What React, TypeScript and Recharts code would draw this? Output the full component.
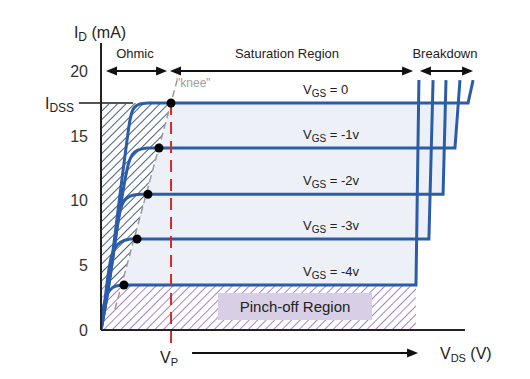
import React from 'react';
import { ComposedChart, Line, Area, Scatter, XAxis, YAxis, ReferenceLine, ReferenceArea, ReferenceDot } from 'recharts';

// VGS curves, top to bottom
const vgsLabels = ['0', '-1v', '-2v', '-3v', '-4v'];
const satCurrent = [17.56, 14.08, 10.5, 7.04, 3.48];
const kneeVoltage = [4.06, 3.36, 2.72, 2.09, 1.33];
const breakdownVoltage = [21.28, 20.52, 19.83, 19.01, 18.26];
const breakdownTopVoltage = [21.57, 20.81, 20.0, 19.25, 18.43];
const breakdownTopCurrent = 19.33;

// ohmic part of each curve (VDS, ID)
const ohmicVoltage = [
    [0, 0.35, 0.7, 0.99, 1.28, 1.51, 1.68, 1.91, 2.26, 2.72],
    [0, 0.41, 0.75, 1.1, 1.39, 1.57, 1.8, 2.14, 2.67],
    [0, 0.41, 0.75, 0.99, 1.22, 1.51, 1.91, 2.38],
    [0, 0.23, 0.41, 0.58, 0.81, 1.16, 1.68],
    [0, 0.12, 0.29, 0.52, 0.87, 1.33],
];
const ohmicCurrent = [
    [0, 3.09, 6.19, 9.28, 12.37, 14.69, 16.24, 17.17, 17.48, 17.56],
    [0, 3.09, 6.19, 9.28, 11.6, 12.76, 13.53, 13.92, 14.08],
    [0, 3.09, 6.19, 8.51, 9.67, 10.21, 10.44, 10.5],
    [0, 2.32, 4.25, 5.57, 6.34, 6.81, 7.04],
    [0, 1.55, 2.55, 3.09, 3.4, 3.48],
];

const kneeLineVoltage = [0.81, 4.41];
const kneeLineCurrent = [1.6, 19.3];
const yTicks = [0, 5, 10, 15, 20];
const idss = 17.56;
const vp = 4.06;

const BLUE = '#2b5ca8';
const FONT = 'Liberation Sans, Arial, sans-serif';

const ohmicCurves = vgsLabels.map((_, i) => ohmicVoltage[i].map((v, j) => ({ x: v, y: ohmicCurrent[i][j] })));
const satCurves = vgsLabels.map((_, i) => {
    const n = ohmicVoltage[i].length - 1;
    return [
        { x: ohmicVoltage[i][n], y: ohmicCurrent[i][n] },
        { x: breakdownVoltage[i], y: satCurrent[i] },
        { x: breakdownTopVoltage[i], y: breakdownTopCurrent },
    ];
});

const kneeDots = kneeVoltage.map((v, i) => ({ x: v, y: satCurrent[i] }));
const kneeLine = kneeLineVoltage.map((v, i) => ({ x: v, y: kneeLineCurrent[i] }));

const low = satCurrent[4];
const kneeAtLow = 1.19;
const ohmicHatch = [
    { x: 0, r: [low, idss] },
    { x: kneeAtLow, r: [low, idss] },
    { x: kneeVoltage[0], r: [idss, idss] },
];

// light region: right of the knee line, stepping down at each breakdown
const satFill = [
    { x: kneeAtLow, r: [low, low] },
    { x: kneeVoltage[0], r: [low, idss] },
    { x: breakdownVoltage[4], r: [low, idss] },
    { x: breakdownVoltage[4], r: [satCurrent[3], idss] },
    { x: breakdownVoltage[3], r: [satCurrent[3], idss] },
    { x: breakdownVoltage[3], r: [satCurrent[2], idss] },
    { x: breakdownVoltage[2], r: [satCurrent[2], idss] },
    { x: breakdownVoltage[2], r: [satCurrent[1], idss] },
    { x: breakdownVoltage[1], r: [satCurrent[1], idss] },
    { x: breakdownVoltage[1], r: [idss, idss] },
];

const arrowShape = (startHead: boolean, endHead: boolean) => (p: any) => {
    const { x1, y1, x2, y2 } = p;
    const h = 11, w = 4.5;
    return (
        <g>
            <line x1={startHead ? x1 + h - 2 : x1} y1={y1} x2={endHead ? x2 - h + 2 : x2} y2={y2} stroke="#111" strokeWidth={2} />
            {startHead && <polygon points={`${x1},${y1} ${x1 + h},${y1 - w} ${x1 + h},${y1 + w}`} fill="#111" />}
            {endHead && <polygon points={`${x2},${y2} ${x2 - h},${y2 - w} ${x2 - h},${y2 + w}`} fill="#111" />}
        </g>
    );
};

const textAt = (key: string, x: number, y: number, render: (cx: number, cy: number) => React.ReactNode) => (
    <ReferenceDot key={key} x={x} y={y} r={0} fill="none" stroke="none" ifOverflow="visible"
        label={{ content: (p: any) => <g>{render(p.viewBox.x, p.viewBox.y)}</g> }} />
);

const sub = (main: string, s: string, rest: string, size: number, subSize: number) => (cx: number, cy: number) => (
    <text x={cx} y={cy} fontFamily={FONT} fontSize={size} fill="#222">
        <tspan>{main}</tspan>
        <tspan fontSize={subSize} dy={3}>{s}</tspan>
        <tspan dy={-3}>{rest}</tspan>
    </text>
);

const plain = (t: string, size: number, anchor: string, fill = '#222') => (cx: number, cy: number) => (
    <text x={cx} y={cy} fontFamily={FONT} fontSize={size} fill={fill} textAnchor={anchor}>{t}</text>
);

export default function App() {
    return (
        <div style={{ position: 'absolute', left: 0, top: 0, width: 530, height: 379, background: '#fff' }}>
            <ComposedChart width={530} height={379} margin={{ top: 43, right: 49.5, left: 61, bottom: 49 }}>
                <defs>
                    <pattern id="hatchBlue" patternUnits="userSpaceOnUse" width="6" height="6" patternTransform="rotate(45)">
                        <line x1="0" y1="0" x2="0" y2="6" stroke="#263f66" strokeWidth="1.7" />
                    </pattern>
                    <pattern id="hatchPurple" patternUnits="userSpaceOnUse" width="6" height="6" patternTransform="rotate(45)">
                        <line x1="0" y1="0" x2="0" y2="6" stroke="#8758c4" strokeWidth="1.5" />
                    </pattern>
                </defs>
                <XAxis type="number" dataKey="x" domain={[0, 22]} allowDataOverflow hide />
                <YAxis type="number" domain={[0, 22.2]} allowDataOverflow width={40} ticks={yTicks}
                    tick={{ fill: '#333', fontSize: 16, fontFamily: FONT }} tickSize={0} tickMargin={13} tickLine={false}
                    axisLine={{ stroke: '#222', strokeWidth: 2 }} />

                <ReferenceArea x1={0} x2={breakdownVoltage[4]} y1={0} y2={low} fill="url(#hatchPurple)" fillOpacity={1} stroke="none" />
                <Area data={satFill} dataKey="r" type="linear" fill="#edf1f7" fillOpacity={1} stroke="none" isAnimationActive={false} />
                <Area data={ohmicHatch} dataKey="r" type="linear" fill="url(#hatchBlue)" fillOpacity={1} stroke="none" isAnimationActive={false} />
                <ReferenceArea x1={6.78} x2={15.71} y1={0.77} y2={2.86} fill="#d8cfe6" fillOpacity={1} stroke="none" />

                <ReferenceLine segment={[{ x: 0, y: 0 }, { x: 21.1, y: 0 }]} stroke="#222" strokeWidth={2} ifOverflow="visible" />
                <ReferenceLine segment={[{ x: -1.28, y: idss }, { x: 1.86, y: idss }]} stroke="#555" strokeWidth={2} ifOverflow="visible" />

                <Line data={kneeLine} dataKey="y" type="linear" stroke="#9a9a9a" strokeWidth={1.5} strokeDasharray="7 4" dot={false} isAnimationActive={false} />
                {ohmicCurves.map((c, i) => (
                    <Line key={'o' + vgsLabels[i]} data={c} dataKey="y" type="monotone" stroke={BLUE} strokeWidth={3} dot={false} isAnimationActive={false} />
                ))}
                {satCurves.map((c, i) => (
                    <Line key={'s' + vgsLabels[i]} data={c} dataKey="y" type="linear" stroke={BLUE} strokeWidth={3} dot={false} isAnimationActive={false} />
                ))}
                <ReferenceLine segment={[{ x: vp, y: idss }, { x: vp, y: -1.16 }]} stroke="#d42a2a" strokeWidth={2} strokeDasharray="12 7" ifOverflow="visible" />
                <Scatter data={kneeDots} dataKey="y" isAnimationActive={false}
                    shape={(p: any) => <circle cx={p.cx} cy={p.cy} r={4.5} fill="#000" />} />

                <ReferenceLine segment={[{ x: 0.29, y: 20.03 }, { x: 3.83, y: 20.03 }]} ifOverflow="visible" shape={arrowShape(true, true)} />
                <ReferenceLine segment={[{ x: 4.0, y: 20.03 }, { x: 18.09, y: 20.03 }]} ifOverflow="visible" shape={arrowShape(true, true)} />
                <ReferenceLine segment={[{ x: 18.49, y: 20.03 }, { x: 21.57, y: 20.03 }]} ifOverflow="visible" shape={arrowShape(true, true)} />
                <ReferenceLine segment={[{ x: 5.28, y: -1.78 }, { x: 18.38, y: -1.78 }]} ifOverflow="visible" shape={arrowShape(false, true)} />

                {textAt('id', -1.57, 22.58, sub('I', 'D', ' (mA)', 16, 12))}
                {textAt('idss', -3.25, 17.09, sub('I', 'DSS', '', 16, 12))}
                {textAt('ohmic', 1.97, 21.04, plain('Ohmic', 13, 'middle'))}
                {textAt('sat', 10.78, 21.04, plain('Saturation Region', 13, 'middle'))}
                {textAt('bd', 19.94, 21.04, plain('Breakdown', 13, 'middle'))}
                {textAt('knee', 4.35, 18.79, plain('"knee"', 12, 'start', '#a0a0a0'))}
                {vgsLabels.map((l, i) => textAt('vgs' + i, 11.71, satCurrent[i] + 0.7, sub('V', 'GS', ' = ' + l, 13, 10)))}
                {textAt('pinch', 11.25, 1.39, plain('Pinch-off Region', 15, 'middle'))}
                {textAt('vp', 3.42, -2.55, sub('V', 'P', '', 16, 11))}
                {textAt('vds', 19.65, -2.24, sub('V', 'DS', ' (V)', 16, 11))}
            </ComposedChart>
        </div>
    );
}
